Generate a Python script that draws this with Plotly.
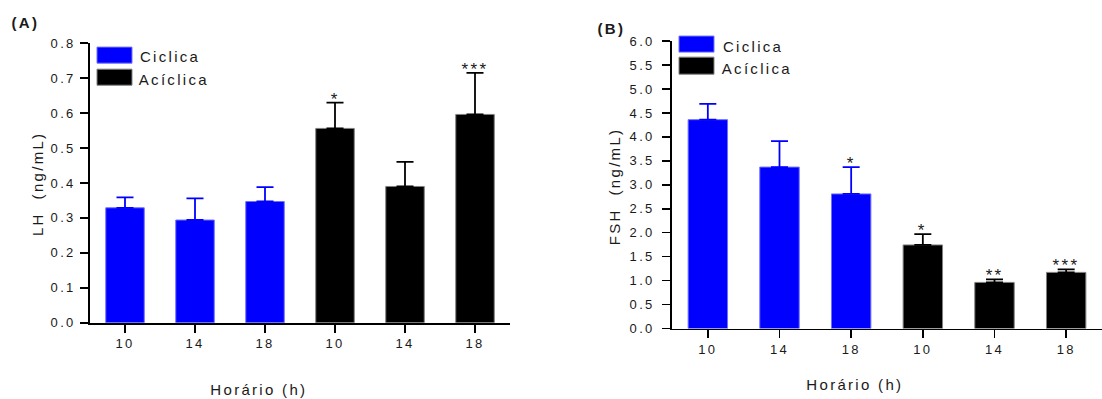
import plotly.graph_objects as go

# ---------------- data ----------------
hours = ["10", "14", "18"]
groups = ["Ciclica", "Acíclica"]
tick_labels = hours + hours

lh_ciclica = [0.329, 0.294, 0.347]
lh_ciclica_err = [0.030, 0.062, 0.041]
lh_aciclica = [0.556, 0.390, 0.596]
lh_aciclica_err = [0.074, 0.070, 0.119]

fsh_ciclica = [4.36, 3.37, 2.81]
fsh_ciclica_err = [0.33, 0.54, 0.56]
fsh_aciclica = [1.745, 0.963, 1.172]
fsh_aciclica_err = [0.225, 0.062, 0.063]

lh_sig = ["", "", "", "*", "", "***"]
fsh_sig = ["", "", "*", "*", "**", "***"]

# ---------------- styling ----------------
W, H = 1102, 399
FONT = "Liberation Sans, Arial, sans-serif"
TXT = "#1a1a1a"
BLUE = "#0000FF"
BLACK = "#000000"

# the photographed page maps paper space to rows 7..390 of the picture
TOP_OFF, V_SPAN = 7.0, 383.0

def px(x):
    return x / W

def py(y):
    return 1 - (y - TOP_OFF) / V_SPAN

x_ciclica = list(range(len(hours)))
x_aciclica = [len(hours) + i for i in range(len(hours))]

fig = go.Figure()

def add_panel(vals_c, err_c, vals_a, err_a, xa, ya):
    fig.add_trace(go.Bar(
        x=x_ciclica, y=vals_c, name=groups[0], width=0.55,
        marker=dict(color=BLUE, line=dict(color="#7070ff", width=1)),
        error_y=dict(type="data", symmetric=False, array=err_c,
                     arrayminus=[0] * len(err_c), color=BLUE,
                     thickness=1.8, width=8.5),
        xaxis=xa, yaxis=ya, showlegend=False, hoverinfo="skip"))
    fig.add_trace(go.Bar(
        x=x_aciclica, y=vals_a, name=groups[1], width=0.55,
        marker=dict(color=BLACK, line=dict(color="#808080", width=1)),
        error_y=dict(type="data", symmetric=False, array=err_a,
                     arrayminus=[0] * len(err_a), color=BLACK,
                     thickness=1.8, width=8.5),
        xaxis=xa, yaxis=ya, showlegend=False, hoverinfo="skip"))

add_panel(lh_ciclica, lh_ciclica_err, lh_aciclica, lh_aciclica_err, "x", "y")
add_panel(fsh_ciclica, fsh_ciclica_err, fsh_aciclica, fsh_aciclica_err, "x2", "y2")

axis_common = dict(
    showline=True, linecolor=BLACK, linewidth=1.8, mirror=False,
    ticks="outside", ticklen=8, tickwidth=1.5, tickcolor=BLACK,
    showgrid=False, zeroline=False,
    tickfont=dict(family=FONT, size=13, color=TXT),
)

fig.update_layout(
    width=W, height=H,
    margin=dict(l=0, r=0, t=0, b=0),
    paper_bgcolor="white", plot_bgcolor="white",
    barmode="overlay",
    xaxis=dict(domain=[px(90), px(510)], range=[-0.5, 5.5],
               tickmode="array", tickvals=x_ciclica + x_aciclica,
               ticktext=tick_labels, anchor="y", **axis_common),
    yaxis=dict(domain=[py(322), py(43)], range=[0, 0.8], dtick=0.1,
               tickformat=".1f", anchor="x", ticklabelstandoff=2,
               **axis_common),
    xaxis2=dict(domain=[px(672), 1.0], range=[-0.5, 5.5],
                tickmode="array", tickvals=x_ciclica + x_aciclica,
                ticktext=tick_labels, anchor="y2", **axis_common),
    yaxis2=dict(domain=[py(327.7), py(41)], range=[0, 6], dtick=0.5,
                tickformat=".1f", anchor="x2", ticklabelstandoff=5,
                **axis_common),
)

annotations = []
# significance stars
for xs, vals, errs, sigs, xr, yr in [
    (x_ciclica + x_aciclica, lh_ciclica + lh_aciclica,
     lh_ciclica_err + lh_aciclica_err, lh_sig, "x", "y"),
    (x_ciclica + x_aciclica, fsh_ciclica + fsh_aciclica,
     fsh_ciclica_err + fsh_aciclica_err, fsh_sig, "x2", "y2"),
]:
    for xv, v, e, s in zip(xs, vals, errs, sigs):
        if s:
            annotations.append(dict(
                x=xv, y=v + e, xref=xr, yref=yr, text=s, showarrow=False,
                xanchor="center", yanchor="bottom", yshift=-8,
                font=dict(family=FONT, size=17, color=TXT)))

def label(x, y, text, size=15, angle=0, anchor="center"):
    annotations.append(dict(x=px(x), y=py(y), xref="paper", yref="paper",
                            text=text, showarrow=False, textangle=angle,
                            xanchor=anchor, yanchor="middle",
                            font=dict(family=FONT, size=size, color=TXT)))

# axis titles
label(259, 389, "Horário (h)")
label(855, 384, "Horário (h)")
label(37, 184, "LH  (ng/mL)", angle=-90)
label(614, 186, "FSH  (ng/mL)", angle=-90)

# panel labels
label(25, 22, "<b>(A)</b>")
label(611, 28, "<b>(B)</b>")

# legends (drawn as boxes + text)
shapes = []
legend_specs = [
    (97, 132, [(47, 63), (69, 85)], 146, [56, 79]),
    (679, 714, [(36, 52), (57, 74)], 729, [46, 68]),
]
for x0, x1, boxes, tx, tys in legend_specs:
    for (yt, yb), col, edge, name, ty in zip(
            boxes, [BLUE, BLACK], ["#7070ff", "#808080"], groups, tys):
        shapes.append(dict(type="rect", xref="paper", yref="paper",
                           x0=px(x0), x1=px(x1), y0=py(yb), y1=py(yt),
                           fillcolor=col, line=dict(color=edge, width=1)))
        label(tx, ty, name, anchor="left")

fig.update_layout(annotations=annotations, shapes=shapes)

post = """
document.body.style.margin = '0';
document.body.style.overflow = 'hidden';
var s = document.createElement('style');
s.innerHTML = '.main-svg text { letter-spacing: 2.3px; }';
document.head.appendChild(s);
"""

fig.write_html("out.html", post_script=post,
               config={"displayModeBar": False, "staticPlot": True})
